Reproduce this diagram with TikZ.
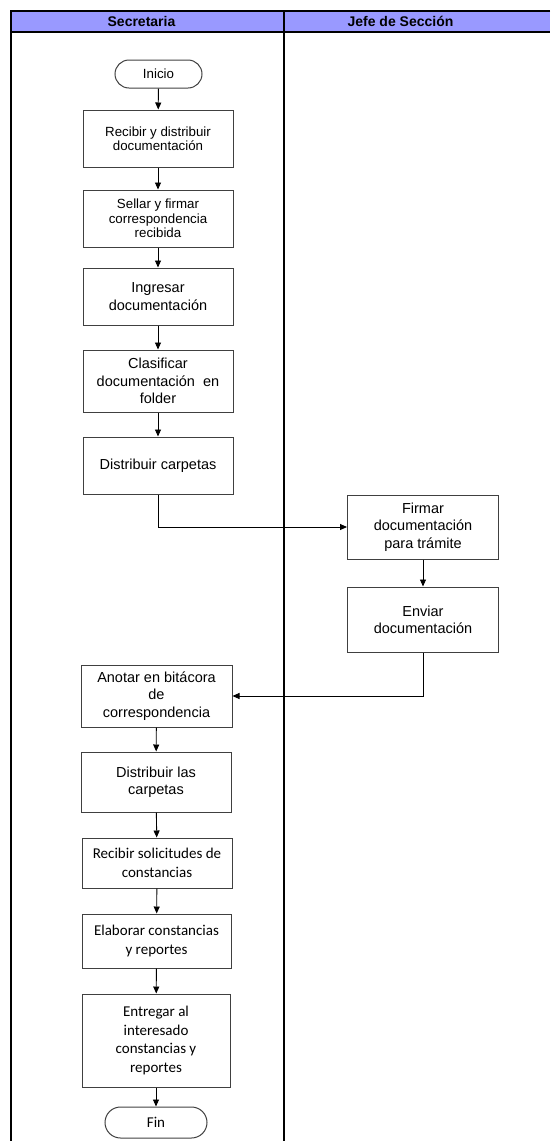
\documentclass[tikz,border=0pt]{standalone}
\usepackage{fontspec}
\setmainfont{Liberation Sans}
\newfontfamily\arialfont{Liberation Sans}
\newfontfamily\calib{Carlito}
\usetikzlibrary{arrows.meta}

\definecolor{lanehead}{RGB}{153,153,255}
\definecolor{boxline}{RGB}{64,64,64}

\tikzset{
  lane/.style={line width=2pt, draw=black},
  proc/.style={draw=boxline, line width=1pt, rectangle, align=center, inner sep=1pt,
               text=black},
  term/.style={proc, rounded corners=14pt},
  arr/.style={line width=0.9pt, draw=black, -{Triangle[length=7pt,width=6pt]}},
  fsmall/.style={font=\arialfont\fontsize{13.3}{14.5}\selectfont},
  fnorm/.style={font=\arialfont\fontsize{14.5}{17.3}\selectfont},
  fcal/.style={font=\calib\fontsize{15}{18.5}\selectfont},
  fhead/.style={font=\arialfont\bfseries\fontsize{14}{16}\selectfont}
}

\begin{document}
\begin{tikzpicture}[x=1pt, y=-1pt]
\useasboundingbox (0,0) rectangle (550,1141);

% swimlane header band and frame
\fill[lanehead] (11,11) rectangle (550,32);
\draw[lane] (550,11) -- (11,11) -- (11,1141);
\draw[lane] (11,32) -- (550,32);
\draw[lane] (284,11) -- (284,1141);
\node[fhead] (hsec) at (141.5,21.5) {Secretaria};
\node[fhead] (hjefe) at (400.5,21.5) {Jefe de Sección};

% Secretaria lane, first part
\node[term, fsmall, minimum width=87pt, minimum height=28pt] (inicio) at (158.5,74) {Inicio};
\node[proc, fsmall, minimum width=150pt, minimum height=57pt] (b1) at (158,138.5)
  {Recibir y distribuir\\documentación};
\node[proc, fsmall, minimum width=150pt, minimum height=57pt] (b2) at (158,218.5)
  {Sellar y firmar\\correspondencia\\recibida};
\node[proc, fnorm, minimum width=150pt, minimum height=57pt] (b3) at (158,296.5)
  {Ingresar\\documentación};
\node[proc, fnorm, minimum width=150pt, minimum height=62pt] (b4) at (158,381)
  {Clasificar\\documentación\ \ en\\folder};
\node[proc, fnorm, minimum width=150pt, minimum height=57pt] (b5) at (158,465.5)
  {Distribuir carpetas};

% Jefe de Sección lane
\node[proc, fnorm, minimum width=151pt, minimum height=64pt] (b6) at (423,527)
  {Firmar\\documentación\\para trámite};
\node[proc, fnorm, minimum width=151pt, minimum height=65pt] (b7) at (423,619.5)
  {Enviar\\documentación};

% Secretaria lane, second part
\node[proc, fnorm, minimum width=151pt, minimum height=62pt] (b8) at (156.5,696)
  {Anotar en bitácora\\de\\correspondencia};
\node[proc, fnorm, minimum width=150pt, minimum height=60pt] (b9) at (156,782)
  {Distribuir las\\carpetas};
\node[proc, fcal, minimum width=150pt, minimum height=50pt] (b10) at (157,863)
  {Recibir solicitudes de\\constancias};
\node[proc, fcal, minimum width=149pt, minimum height=54pt] (b11) at (156.5,941)
  {Elaborar constancias\\y reportes};
\node[proc, fcal, minimum width=148pt, minimum height=93pt] (b12) at (156,1040.5)
  {Entregar al\\interesado\\constancias y\\reportes};
\node[term, fcal, minimum width=102pt, minimum height=31pt, rounded corners=15.5pt] (fin) at (156,1122.5) {Fin};

% connectors
\draw[arr] (inicio) -- (b1);
\draw[arr] (b1) -- (b2);
\draw[arr] (b2) -- (b3);
\draw[arr] (b3) -- (b4);
\draw[arr] (b4) -- (b5);
\draw[arr] (b5.south) |- (b6.west);
\draw[arr] (b6) -- (b7);
\draw[arr] (b7.south) |- (b8.east);
\draw[arr] (b8) -- (b9);
\draw[arr] (b9) -- (b10);
\draw[arr] (b10) -- (b11);
\draw[arr] (b11) -- (b12);
\draw[arr] (b12) -- (fin);
\end{tikzpicture}
\end{document}
